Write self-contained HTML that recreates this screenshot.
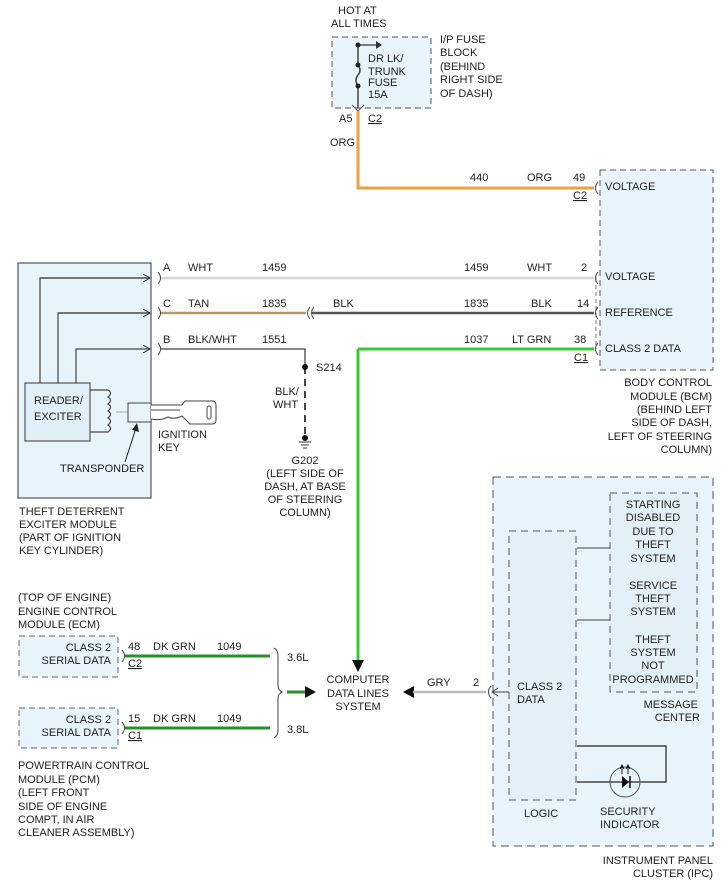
<!DOCTYPE html>
<html><head><meta charset="utf-8"><style>
html,body{margin:0;padding:0;background:#fff}
svg{display:block}
text{font-family:"Liberation Sans",sans-serif;font-size:11px;fill:#222}
</style></head><body>
<svg width="728" height="891" viewBox="0 0 728 891" xmlns="http://www.w3.org/2000/svg">
<defs>
<marker id="ah" markerWidth="8" markerHeight="8" refX="7" refY="4" orient="auto" markerUnits="userSpaceOnUse"><path d="M0,0 L7,4 L0,8" fill="none" stroke="#333" stroke-width="1"/></marker>
</defs>
<!-- Fuse block -->
<rect x="332" y="37" width="99" height="71" fill="#e8f4fb" stroke="#555" stroke-dasharray="6,4"/>
<line x1="358" y1="43" x2="358" y2="65" stroke="#444" stroke-width="1.5"/>
<path d="M358,65 q4,5 0,10 q-4,5 0,11" fill="none" stroke="#444" stroke-width="1.5"/>
<line x1="358" y1="86" x2="358" y2="108" stroke="#444" stroke-width="1.5"/>
<circle cx="358" cy="45" r="2.5" fill="#222"/><circle cx="358" cy="65" r="2.5" fill="#222"/><circle cx="358" cy="86" r="2.5" fill="#222"/>
<line x1="358" y1="45" x2="380" y2="45" stroke="#333" stroke-width="1.2"/><path d="M376,41 L382,45 L376,49" fill="#333"/>
<path d="M352,105 L358,111 L364,105" fill="none" stroke="#555"/>
<text x="338" y="14">HOT AT</text><text x="331" y="27">ALL TIMES</text>
<text x="368" y="62">DR LK/</text><text x="368" y="75">TRUNK</text><text x="368" y="86">FUSE</text><text x="368" y="98">15A</text>
<text x="440" y="43">I/P FUSE</text><text x="440" y="56">BLOCK</text><text x="440" y="70">(BEHIND</text><text x="440" y="83">RIGHT SIDE</text><text x="440" y="97">OF DASH)</text>
<text x="339" y="122">A5</text><text x="368" y="122" text-decoration="underline">C2</text>
<text x="330" y="146">ORG</text>
<!-- orange wire -->
<path d="M358,111 L358,188 L594,188" fill="none" stroke="#f0a040" stroke-width="3"/>
<text x="470" y="181">440</text><text x="527" y="181">ORG</text><text x="573" y="181">49</text><text x="573" y="199" text-decoration="underline">C2</text>
<!-- BCM -->
<rect x="600" y="170" width="113" height="200" fill="#e8f4fb" stroke="#555" stroke-dasharray="6,4"/>
<line x1="596" y1="278" x2="596" y2="349" stroke="#777" stroke-dasharray="4,3"/>
<path d="M598,182 q-5,6 0,12" fill="none" stroke="#444"/>
<path d="M598,272 q-5,6 0,12" fill="none" stroke="#444"/>
<path d="M598,307 q-5,6 0,12" fill="none" stroke="#444"/>
<path d="M598,343 q-5,6 0,12" fill="none" stroke="#444"/>
<text x="605" y="190">VOLTAGE</text><text x="605" y="280">VOLTAGE</text><text x="605" y="316">REFERENCE</text><text x="605" y="352">CLASS 2 DATA</text>
<g text-anchor="end"><text x="712" y="386">BODY CONTROL</text><text x="712" y="400">MODULE (BCM)</text><text x="712" y="413">(BEHIND LEFT</text><text x="712" y="426">SIDE OF DASH,</text><text x="712" y="440">LEFT OF STEERING</text><text x="712" y="453">COLUMN)</text></g>
<!-- wires -->
<line x1="160" y1="278" x2="594" y2="278" stroke="#d8d8d8" stroke-width="2.5"/>
<line x1="160" y1="313" x2="306" y2="313" stroke="#b49a6a" stroke-width="2.5"/>
<path d="M310,307 q-5,6 0,12 M314,307 q-5,6 0,12" fill="none" stroke="#555"/>
<line x1="312" y1="313" x2="594" y2="313" stroke="#555" stroke-width="2.5"/>
<path d="M160,349 L305,349 L305,367" fill="none" stroke="#444" stroke-width="1.3"/>
<line x1="305" y1="367" x2="305" y2="436" stroke="#444" stroke-width="2" stroke-dasharray="7,5"/>
<circle cx="305" cy="367" r="3" fill="#111"/>
<circle cx="305" cy="438" r="3" fill="#111"/>
<line x1="299" y1="442" x2="311" y2="442" stroke="#333"/><line x1="301" y1="445" x2="309" y2="445" stroke="#333"/><line x1="303" y1="448" x2="307" y2="448" stroke="#333"/>
<path d="M358,349 L594,349 M358,349 L358,662" fill="none" stroke="#33cc33" stroke-width="3"/>
<path d="M352,660 L364,660 L358,672 Z" fill="#111"/>
<text x="163" y="271">A</text><text x="188" y="271">WHT</text><text x="262" y="271">1459</text>
<text x="464" y="271">1459</text><text x="527" y="271">WHT</text><text x="581" y="271">2</text>
<text x="163" y="307">C</text><text x="188" y="307">TAN</text><text x="262" y="307">1835</text><text x="333" y="307">BLK</text>
<text x="464" y="307">1835</text><text x="531" y="307">BLK</text><text x="577" y="307">14</text>
<text x="163" y="343">B</text><text x="188" y="343">BLK/WHT</text><text x="262" y="343">1551</text>
<text x="464" y="343">1037</text><text x="512" y="343">LT GRN</text><text x="574" y="343">38</text><text x="574" y="361" text-decoration="underline">C1</text>
<text x="316" y="371">S214</text><text x="275" y="395">BLK/</text><text x="273" y="408">WHT</text>
<g text-anchor="middle"><text x="305" y="464">G202</text><text x="305" y="477">(LEFT SIDE OF</text><text x="305" y="490">DASH, AT BASE</text><text x="305" y="503">OF STEERING</text><text x="305" y="516">COLUMN)</text></g>
<!-- Theft module -->
<rect x="18" y="263" width="133" height="235" fill="#e8f4fb" stroke="#555" stroke-width="1.2"/>
<rect x="25" y="383" width="65" height="58" fill="#e0eff8" stroke="#555" stroke-width="1.2"/>
<path d="M40,383 L40,278 L150,278 M58,383 L58,313 L150,313 M76,383 L76,349 L150,349" fill="none" stroke="#444" stroke-width="1.2" marker-end="url(#ah)"/>
<path d="M40,278 L150,278" fill="none" stroke="#444" stroke-width="1.2" marker-end="url(#ah)"/>
<path d="M58,313 L150,313" fill="none" stroke="#444" stroke-width="1.2" marker-end="url(#ah)"/>
<path d="M158,272 q5,6 0,12 M158,307 q5,6 0,12 M158,343 q5,6 0,12" fill="none" stroke="#444"/>
<path d="M90,390 L108,390 q5,3 0,7 q5,3 0,7 q5,3 0,7 q5,3 0,7 q5,3 0,7 q5,3 0,7 L90,432" fill="none" stroke="#444" stroke-width="1.2"/>
<line x1="116" y1="412" x2="128" y2="412" stroke="#aaa"/>
<rect x="128" y="403" width="23" height="19" fill="#e8f4fb" stroke="#444"/>
<path d="M151,405 L182,405 L185,401 L212,401 q4,0 4,4 L216,420 q0,4 -4,4 L190,424 L182,416 q-8,4 -14,1 q-8,4 -17,2" fill="#fff" stroke="#444"/>
<line x1="151" y1="410" x2="180" y2="410" stroke="#444"/>
<rect x="207" y="406" width="4" height="13" rx="2" fill="none" stroke="#444"/>
<line x1="125" y1="462" x2="136" y2="428" stroke="#222"/><path d="M132,430 L137,423 L139,432 Z" fill="#222"/>
<text x="60" y="472">TRANSPONDER</text><text x="34" y="404">READER/</text><text x="34" y="420">EXCITER</text>
<text x="158" y="438">IGNITION</text><text x="158" y="451">KEY</text>
<text x="19" y="515">THEFT DETERRENT</text><text x="19" y="528">EXCITER MODULE</text><text x="19" y="541">(PART OF IGNITION</text><text x="19" y="554">KEY CYLINDER)</text>
<!-- ECM / PCM -->
<text x="18" y="601">(TOP OF ENGINE)</text><text x="18" y="615">ENGINE CONTROL</text><text x="18" y="628">MODULE (ECM)</text>
<rect x="19" y="636" width="99" height="41" fill="#e8f4fb" stroke="#666" stroke-dasharray="6,4"/>
<text x="111" y="651" text-anchor="end">CLASS 2</text><text x="111" y="664" text-anchor="end">SERIAL DATA</text>
<path d="M122,650 q5,6 0,12" fill="none" stroke="#444"/>
<line x1="125" y1="656" x2="270" y2="656" stroke="#2e8b2e" stroke-width="3"/>
<text x="128" y="650">48</text><text x="153" y="650">DK GRN</text><text x="217" y="650">1049</text><text x="128" y="667" text-decoration="underline">C2</text>
<rect x="19" y="708" width="99" height="40" fill="#e8f4fb" stroke="#666" stroke-dasharray="6,4"/>
<text x="111" y="723" text-anchor="end">CLASS 2</text><text x="111" y="736" text-anchor="end">SERIAL DATA</text>
<path d="M122,722 q5,6 0,12" fill="none" stroke="#444"/>
<line x1="125" y1="728" x2="270" y2="728" stroke="#2e8b2e" stroke-width="3"/>
<text x="128" y="722">15</text><text x="153" y="722">DK GRN</text><text x="217" y="722">1049</text><text x="128" y="739" text-decoration="underline">C1</text>
<text x="18" y="769">POWERTRAIN CONTROL</text><text x="18" y="783">MODULE (PCM)</text><text x="18" y="796">(LEFT FRONT</text><text x="18" y="810">SIDE OF ENGINE</text><text x="18" y="823">COMPT, IN AIR</text><text x="18" y="836">CLEANER ASSEMBLY)</text>
<path d="M274,648 q4,2 4,8 L278,686 q0,4 4,6 q-4,2 -4,6 L278,730 q0,6 -4,8" fill="none" stroke="#444"/>
<text x="287" y="661">3.6L</text><text x="287" y="733">3.8L</text>
<line x1="287" y1="692" x2="306" y2="692" stroke="#2e8b2e" stroke-width="3"/><path d="M305,686 L316,692 L305,698 Z" fill="#111"/>
<g text-anchor="middle"><text x="358" y="683">COMPUTER</text><text x="358" y="697">DATA LINES</text><text x="358" y="710">SYSTEM</text></g>
<path d="M414,686 L403,692 L414,698 Z" fill="#111"/>
<line x1="413" y1="692" x2="486" y2="692" stroke="#bbb" stroke-width="2.5"/>
<text x="427" y="686">GRY</text><text x="473" y="686">2</text>
<!-- IPC -->
<rect x="493" y="477" width="220" height="369" fill="#e8f4fb" stroke="#555" stroke-dasharray="8,5"/>
<path d="M491,686 q-5,6 0,12" fill="none" stroke="#444"/>
<path d="M509,692 L492,692 M498,688 L492,692 L498,696" fill="none" stroke="#444"/>
<rect x="509" y="531" width="67" height="269" fill="#e3f0f8" stroke="#555" stroke-dasharray="7,5"/>
<rect x="610" y="493" width="87" height="199" fill="#e3f0f8" stroke="#555" stroke-dasharray="7,5"/>
<path d="M577,548 L610,548 M577,620 L610,620" stroke="#444"/>
<g text-anchor="middle"><text x="653" y="508">STARTING</text><text x="653" y="521">DISABLED</text><text x="653" y="535">DUE TO</text><text x="653" y="548">THEFT</text><text x="653" y="562">SYSTEM</text>
<text x="653" y="589">SERVICE</text><text x="653" y="602">THEFT</text><text x="653" y="615">SYSTEM</text>
<text x="653" y="643">THEFT</text><text x="653" y="656">SYSTEM</text><text x="653" y="669">NOT</text><text x="653" y="683">PROGRAMMED</text></g>
<g text-anchor="end"><text x="698" y="708">MESSAGE</text><text x="700" y="721">CENTER</text></g>
<text x="517" y="690">CLASS 2</text><text x="517" y="703">DATA</text>
<path d="M577,746 L666,746 L666,782 L577,782" fill="none" stroke="#222" stroke-width="1.2"/>
<circle cx="625" cy="782" r="15" fill="none" stroke="#555"/>
<path d="M622,776 L629,782 L622,788 Z" fill="#111"/><line x1="630" y1="776" x2="630" y2="788" stroke="#111" stroke-width="1.5"/>
<path d="M622,774 L622,766 M620,769 L622,765 L624,769 M628,774 L628,766 M626,769 L628,765 L630,769" fill="none" stroke="#111"/>
<text x="524" y="817">LOGIC</text><text x="600" y="815">SECURITY</text><text x="600" y="828">INDICATOR</text>
<g text-anchor="end"><text x="713" y="864">INSTRUMENT PANEL</text><text x="713" y="877">CLUSTER (IPC)</text></g>
</svg>
</body></html>
